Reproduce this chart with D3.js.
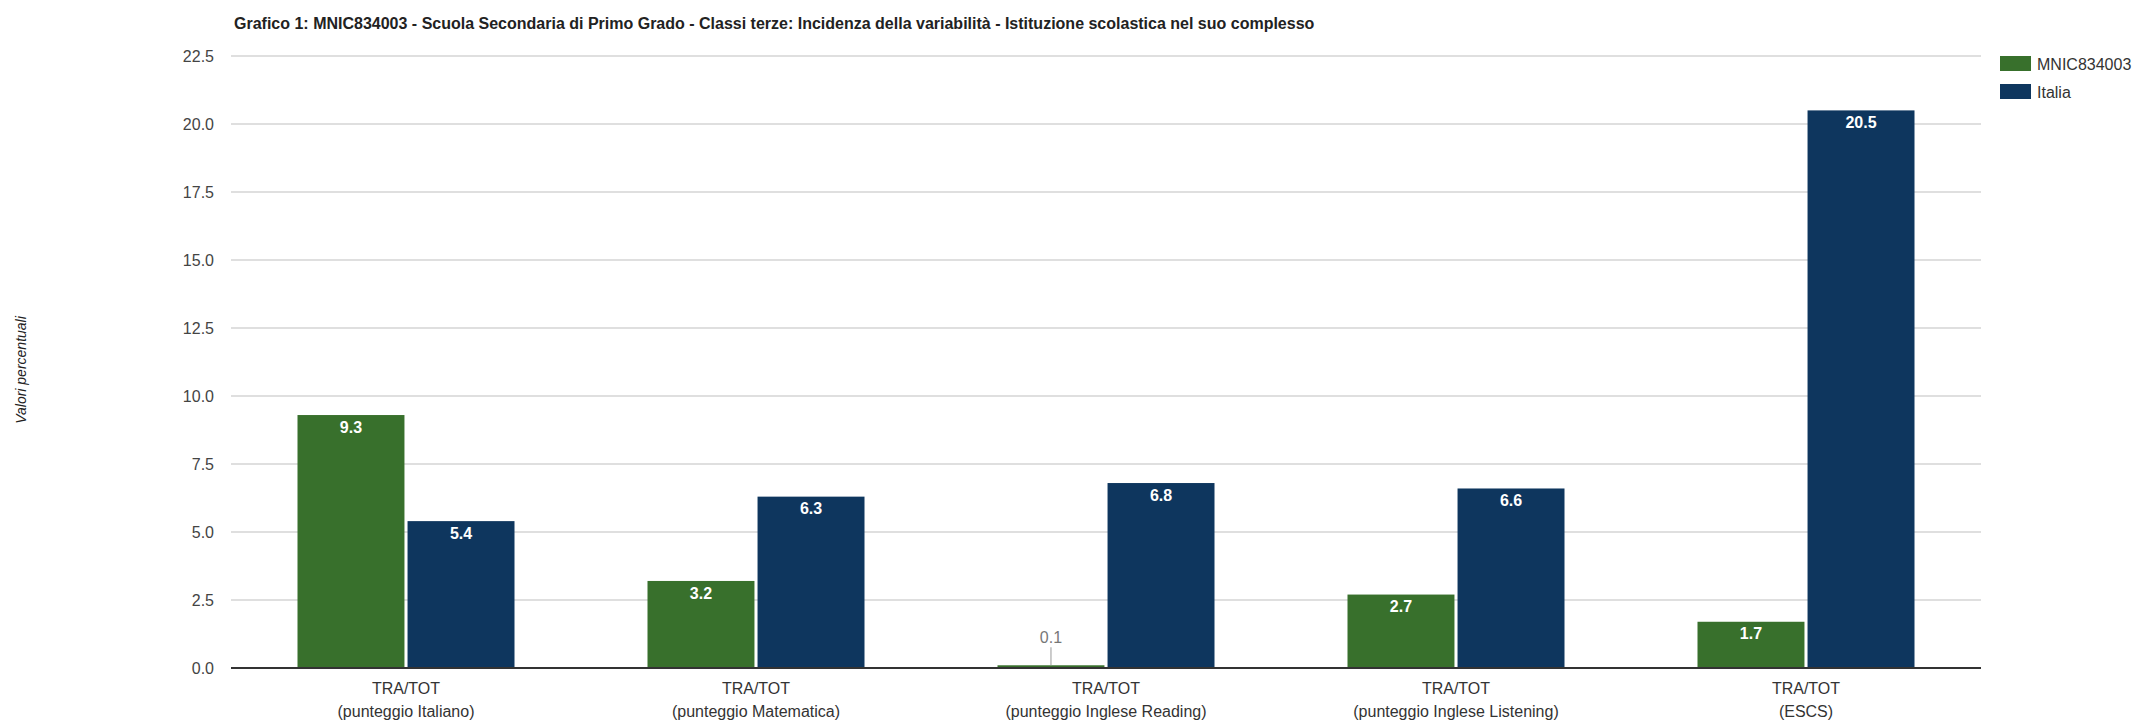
<!DOCTYPE html>
<html lang="it">

<head>
    <meta charset="UTF-8">
    <title>Grafico 1: MNIC834003</title>
    <script src="https://d3js.org/d3.v7.min.js"></script>
    <style>
        body {
            margin: 0;
            background: #fff;
            font-family: "Liberation Sans", Arial, sans-serif;
        }

        .grid line {
            stroke: #d4d4d4;
            stroke-width: 1.5px;
        }

        .tick-label {
            font-size: 16px;
            fill: #444;
        }
    </style>
</head>

<body>
    <svg width="2133" height="720"></svg>

    <script>
        const width = 2133;
        const height = 720;

        // dati
        const categories = ["(punteggio Italiano)", "(punteggio Matematica)", "(punteggio Inglese Reading)",
            "(punteggio Inglese Listening)", "(ESCS)"];
        const seriesNames = ["MNIC834003", "Italia"];
        const scuola = [9.3, 3.2, 0.1, 2.7, 1.7];
        const italia = [5.4, 6.3, 6.8, 6.6, 20.5];
        const yTicks = [0, 2.5, 5, 7.5, 10, 12.5, 15, 17.5, 20, 22.5];
        const colors = ["#38702c", "#0e365e"];

        const titolo = "Grafico 1: MNIC834003 - Scuola Secondaria di Primo Grado - Classi terze: Incidenza della variabilità - Istituzione scolastica nel suo complesso";

        const margin = { top: 56, right: 152, bottom: 52, left: 231 };
        const plotW = width - margin.left - margin.right;
        const plotH = height - margin.top - margin.bottom;

        const svg = d3.select("svg");

        // titolo
        svg.append("text")
            .attr("x", 234)
            .attr("y", 29)
            .attr("font-size", "16px")
            .attr("font-weight", "bold")
            .attr("fill", "#222")
            .text(titolo);

        const g = svg.append("g").attr("transform", `translate(${margin.left},${margin.top})`);

        const x0 = d3.scaleBand().domain(categories).range([0, plotW]).padding(0);
        const x1 = d3.scaleBand().domain(seriesNames)
            .range([66.5, x0.bandwidth() - 66.5])
            .paddingInner(0.028).paddingOuter(0);
        const y = d3.scaleLinear().domain([0, 22.5]).range([plotH, 0]);

        // griglia
        const grid = g.append("g").attr("class", "grid");
        grid.selectAll("line")
            .data(yTicks.filter(d => d > 0))
            .enter()
            .append("line")
            .attr("x1", 0)
            .attr("x2", plotW)
            .attr("y1", d => y(d))
            .attr("y2", d => y(d));

        // etichette asse y
        g.selectAll(".tick-label")
            .data(yTicks)
            .enter()
            .append("text")
            .attr("class", "tick-label")
            .attr("x", -17)
            .attr("y", d => y(d))
            .attr("dy", "0.35em")
            .attr("text-anchor", "end")
            .text(d => d3.format(".1f")(d));

        // titolo asse y
        svg.append("text")
            .attr("transform", `translate(26,${margin.top + plotH / 2 + 8}) rotate(-90)`)
            .attr("text-anchor", "middle")
            .attr("font-size", "14px")
            .attr("font-style", "italic")
            .attr("fill", "#222")
            .text("Valori percentuali");

        const rows = categories.map((c, i) => ({ cat: c, values: [scuola[i], italia[i]] }));

        const groups = g.selectAll(".group")
            .data(rows)
            .enter()
            .append("g")
            .attr("class", "group")
            .attr("transform", d => `translate(${x0(d.cat)},0)`);

        const bars = groups.selectAll(".bar")
            .data(d => d.values.map((v, k) => ({ serie: seriesNames[k], value: v, k: k })))
            .enter();

        bars.append("rect")
            .attr("class", "bar")
            .attr("x", d => x1(d.serie))
            .attr("y", d => y(d.value))
            .attr("width", x1.bandwidth())
            .attr("height", d => plotH - y(d.value))
            .attr("fill", d => colors[d.k]);

        // etichette valori
        bars.each(function (d) {
            const sel = d3.select(this);
            const cx = x1(d.serie) + x1.bandwidth() / 2;
            const h = plotH - y(d.value);
            if (h > 20) {
                sel.append("text")
                    .attr("x", cx)
                    .attr("y", y(d.value) + 12)
                    .attr("dy", "0.35em")
                    .attr("text-anchor", "middle")
                    .attr("font-size", "16px")
                    .attr("font-weight", "bold")
                    .attr("fill", "#fff")
                    .text(d3.format(".1f")(d.value));
            } else {
                sel.append("line")
                    .attr("x1", cx).attr("x2", cx)
                    .attr("y1", y(d.value))
                    .attr("y2", y(d.value) - 18)
                    .attr("stroke", "#999")
                    .attr("stroke-width", 1);
                sel.append("text")
                    .attr("x", cx)
                    .attr("y", y(d.value) - 28)
                    .attr("dy", "0.35em")
                    .attr("text-anchor", "middle")
                    .attr("font-size", "16px")
                    .attr("fill", "#777")
                    .text(d3.format(".1f")(d.value));
            }
        });

        // asse x
        g.append("line")
            .attr("x1", 0).attr("x2", plotW)
            .attr("y1", plotH).attr("y2", plotH)
            .attr("stroke", "#333")
            .attr("stroke-width", 2);

        const xl = groups.append("text")
            .attr("x", x0.bandwidth() / 2)
            .attr("text-anchor", "middle")
            .attr("font-size", "16px")
            .attr("fill", "#333");
        xl.append("tspan").attr("x", x0.bandwidth() / 2).attr("y", plotH + 26).text("TRA/TOT");
        xl.append("tspan").attr("x", x0.bandwidth() / 2).attr("y", plotH + 49).text(d => d.cat);

        // legenda
        const legend = svg.append("g").attr("transform", "translate(2000,56)");
        const li = legend.selectAll("g")
            .data(seriesNames)
            .enter()
            .append("g")
            .attr("transform", (d, i) => `translate(0,${i * 28})`);
        li.append("rect")
            .attr("width", 31)
            .attr("height", 15)
            .attr("fill", (d, i) => colors[i]);
        li.append("text")
            .attr("x", 37)
            .attr("y", 8)
            .attr("dy", "0.35em")
            .attr("font-size", "16px")
            .attr("fill", "#333")
            .text(d => d);
    </script>
</body>

</html>
